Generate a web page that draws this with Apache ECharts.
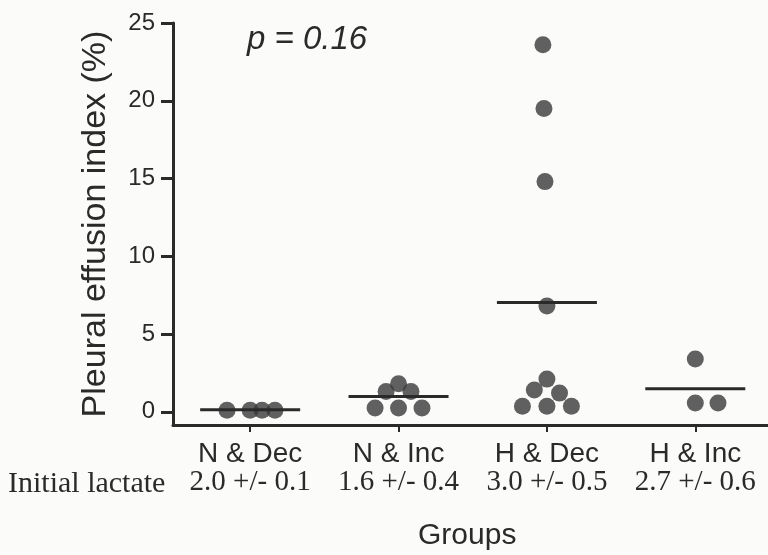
<!DOCTYPE html>
<html>
<head>
<meta charset="utf-8">
<script src="https://cdn.jsdelivr.net/npm/echarts@6/dist/echarts.min.js"></script>
<style>
html,body{margin:0;padding:0;background:#fbfbf9;}
#chart{width:768px;height:555px;}
</style>
</head>
<body>
<div id="chart"></div>
<script>
// ---- data ----
const groups = ['N & Dec', 'N & Inc', 'H & Dec', 'H & Inc'];
const lactate = ['2.0 +/- 0.1', '1.6 +/- 0.4', '3.0 +/- 0.5', '2.7 +/- 0.6'];
const yTicks = [0, 5, 10, 15, 20, 25];
const groupPos = [1, 2, 3, 4];

const nDecValues = [0.1, 0.1, 0.1, 0.1];
const nDecJitter = [-0.156, 0, 0.08, 0.167];
const nIncValues = [0.25, 0.25, 0.25, 1.3, 1.3, 1.8];
const nIncJitter = [-0.158, 0, 0.158, -0.084, 0.084, 0];
const hDecValues = [0.35, 0.35, 0.35, 1.4, 1.2, 2.1, 6.8, 14.8, 19.5, 23.6];
const hDecJitter = [-0.165, 0, 0.165, -0.085, 0.085, 0, 0, -0.013, -0.02, -0.027];
const hIncValues = [0.56, 0.56, 3.4];
const hIncJitter = [0, 0.153, 0];
const meanValues = [0.13, 0.98, 7.03, 1.48];
const meanHalfWidth = 0.337;

const groupValues = [nDecValues, nIncValues, hDecValues, hIncValues];
const groupJitter = [nDecJitter, nIncJitter, hDecJitter, hIncJitter];

const points = [];
groupValues.forEach((vals, g) => {
  vals.forEach((v, i) => points.push([groupPos[g] + groupJitter[g][i], v]));
});

const ink = '#2a2a2a';
const meanSeries = meanValues.map((m, g) => ({
  type: 'line',
  data: [[groupPos[g] - meanHalfWidth, m], [groupPos[g] + meanHalfWidth, m]],
  symbol: 'none',
  lineStyle: { color: ink, width: 3 },
  z: 5,
  silent: true,
  animation: false
}));

const chart = echarts.init(document.getElementById('chart'), null, { renderer: 'canvas' });
chart.setOption({
  backgroundColor: '#fbfbf9',
  animation: false,
  grid: { left: 173, right: 0, top: 23, bottom: 130 },
  xAxis: {
    type: 'value',
    min: 0.48,
    max: 4.49,
    splitLine: { show: false },
    axisLine: { onZero: false, lineStyle: { color: ink, width: 3 } },
    axisTick: { customValues: groupPos, length: 7, lineStyle: { color: ink, width: 2 } },
    axisLabel: {
      customValues: groupPos,
      margin: 15,
      formatter: v => {
        const i = groupPos.indexOf(v);
        return '{a|' + groups[i] + '}\n{b|' + lactate[i] + '}';
      },
      rich: {
        a: { fontFamily: 'Liberation Sans, Arial, sans-serif', fontSize: 28, color: ink, lineHeight: 28 },
        b: { fontFamily: 'Liberation Serif, Times New Roman, serif', fontSize: 29, color: ink, lineHeight: 28 }
      }
    }
  },
  yAxis: {
    type: 'value',
    min: -0.85,
    max: 25,
    name: 'Pleural effusion index (%)',
    nameLocation: 'middle',
    nameGap: 60,
    nameTextStyle: { fontFamily: 'Liberation Sans, Arial, sans-serif', fontSize: 34, color: ink },
    splitLine: { show: false },
    axisLine: { show: true, lineStyle: { color: ink, width: 3 } },
    axisTick: { show: true, customValues: yTicks, length: 12, lineStyle: { color: ink, width: 3 } },
    axisLabel: {
      customValues: yTicks,
      margin: 18,
      fontFamily: 'Liberation Sans, Arial, sans-serif',
      fontSize: 24,
      color: ink
    }
  },
  graphic: [
    { type: 'text', left: 247, top: 23, style: { text: 'p = 0.16', fontFamily: 'Liberation Sans, Arial, sans-serif', fontStyle: 'italic', fontSize: 33, fill: ink } },
    { type: 'text', left: 8, top: 469, style: { text: 'Initial lactate', fontFamily: 'Liberation Serif, Times New Roman, serif', fontSize: 30, fill: ink } },
    { type: 'text', left: 418, top: 521, style: { text: 'Groups', fontFamily: 'Liberation Sans, Arial, sans-serif', fontSize: 30, fill: ink } }
  ],
  series: [
    {
      type: 'scatter',
      data: points,
      symbolSize: 17,
      itemStyle: { color: '#3a3a3a' },
      z: 3
    }
  ].concat(meanSeries)
});
</script>
</body>
</html>
